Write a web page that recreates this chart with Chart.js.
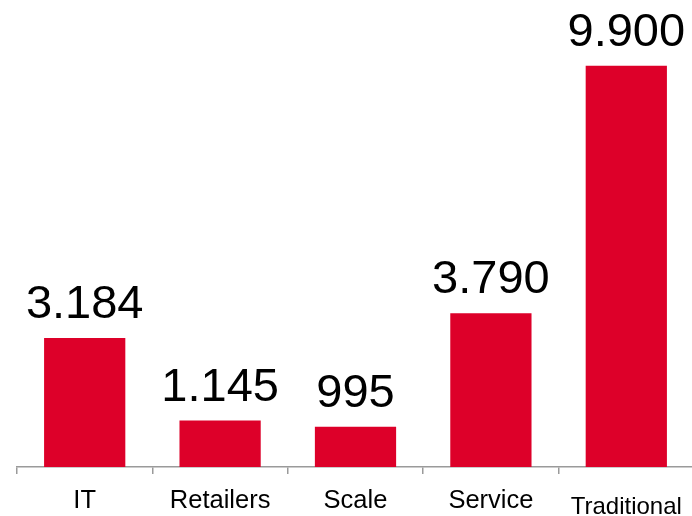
<!DOCTYPE html>
<html>
<head>
<meta charset="utf-8">
<script src="https://cdn.jsdelivr.net/npm/chart.js@4.4.1/dist/chart.umd.min.js"></script>
<style>
    html, body { margin: 0; padding: 0; background: #fff; overflow: hidden; }
    #wrap { position: relative; width: 692px; height: 516px; overflow: hidden; }
    #chart { position: absolute; left: 0; top: 0; }
</style>
</head>
<body>
<div id="wrap"><canvas id="chart" width="694" height="516"></canvas></div>
<script>
// Categorias e valores
const categorias = ['IT', 'Retailers', 'Scale', 'Service', 'Traditional'];
const valores = [3184, 1145, 995, 3790, 9900];

const VERMELHO = '#DD0029';
const FONTE = '"Liberation Sans", Arial, sans-serif';

// 3184 -> "3.184"
function formatar(v) {
    return String(v).replace(/\B(?=(\d{3})+(?!\d))/g, '.');
}

// Valor escrito acima de cada barra
const rotulosValor = {
    id: 'rotulosValor',
    afterDatasetsDraw(chart) {
        const ctx = chart.ctx;
        const meta = chart.getDatasetMeta(0);
        ctx.save();
        ctx.fillStyle = '#000';
        ctx.font = '47px ' + FONTE;
        ctx.textAlign = 'center';
        ctx.textBaseline = 'alphabetic';
        meta.data.forEach((barra, i) => {
            ctx.fillText(formatar(valores[i]), barra.x, barra.y - 20);
        });
        ctx.restore();
    }
};

// Nomes das categorias sob o eixo (o último fica menor e mais baixo)
const rotulosEixo = {
    id: 'rotulosEixo',
    afterDraw(chart) {
        const ctx = chart.ctx;
        const escala = chart.scales.x;
        ctx.save();
        ctx.fillStyle = '#000';
        ctx.textAlign = 'center';
        ctx.textBaseline = 'alphabetic';
        categorias.forEach((nome, i) => {
            const x = escala.getPixelForTick(i);
            const ultimo = i === categorias.length - 1;
            ctx.font = (ultimo ? '24px ' : '25.5px ') + FONTE;
            ctx.fillText(nome, x, ultimo ? 514 : 508);
        });
        ctx.restore();
    }
};

new Chart(document.getElementById('chart'), {
    type: 'bar',
    data: {
        labels: categorias,
        datasets: [{
            data: valores,
            backgroundColor: VERMELHO,
            borderWidth: 0,
            barPercentage: 0.6,
            categoryPercentage: 1.0
        }]
    },
    options: {
        responsive: false,
        animation: false,
        devicePixelRatio: 1,
        layout: { padding: { left: 17, right: 0, top: 0, bottom: 42 } },
        plugins: {
            legend: { display: false },
            tooltip: { enabled: false }
        },
        scales: {
            x: {
                offset: true,
                ticks: { display: false },
                grid: {
                    offset: true,
                    drawOnChartArea: false,
                    drawTicks: true,
                    tickLength: 7,
                    color: '#9a9a9a',
                    lineWidth: 1.5
                },
                border: { display: true, color: '#9a9a9a', width: 1.5 }
            },
            y: {
                display: false,
                min: 0,
                max: 11520
            }
        }
    },
    plugins: [rotulosValor, rotulosEixo]
});
</script>
</body>
</html>
